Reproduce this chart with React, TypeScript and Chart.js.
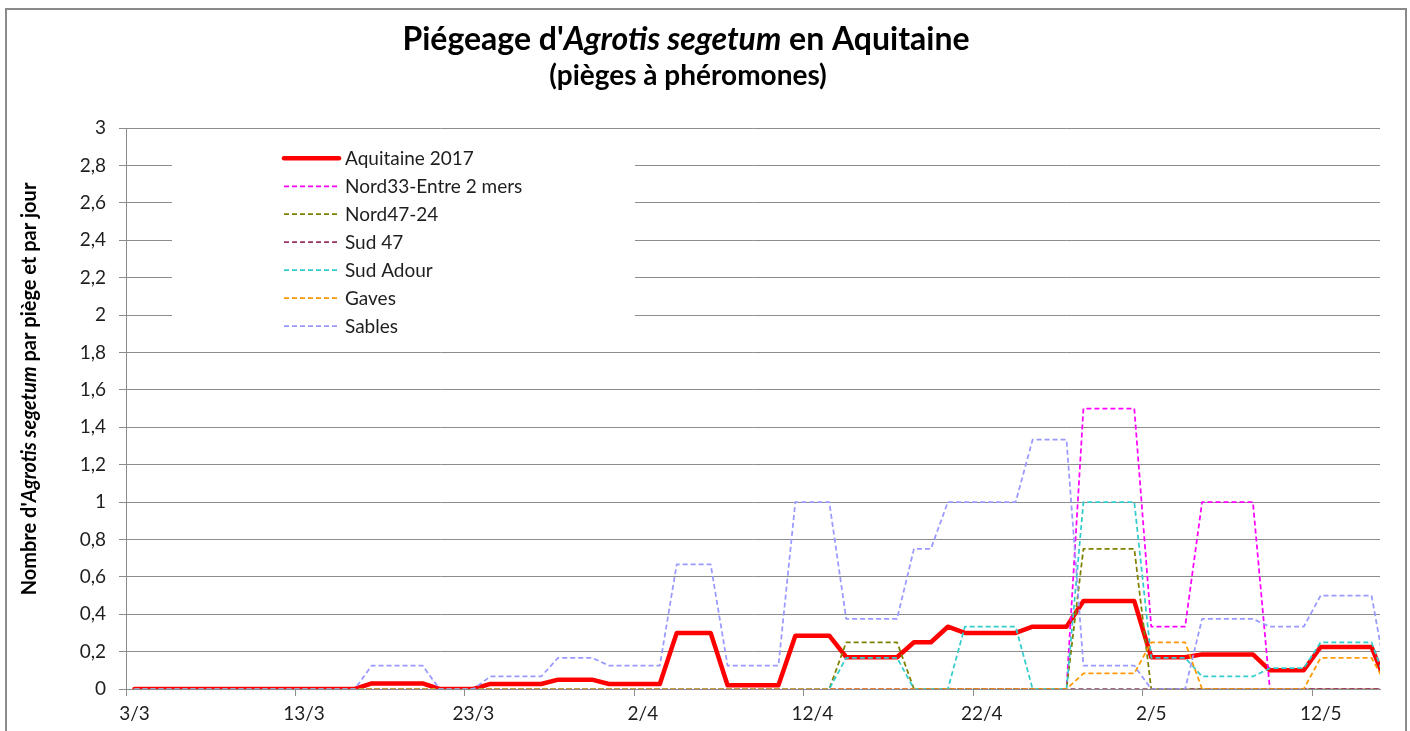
import React, { useEffect, useRef } from "react";
import { Chart, registerables } from "chart.js";

Chart.register(...registerables);

// Days from 3/3 (index 0) to 16/5 (index 74); one value per day
const tickLabels = ["3/3", "13/3", "23/3", "2/4", "12/4", "22/4", "2/5", "12/5"];
const dayCount = 75;

const seriesNames = [
  "Aquitaine 2017",
  "Nord33-Entre 2 mers",
  "Nord47-24",
  "Sud 47",
  "Sud Adour",
  "Gaves",
  "Sables",
];

const aquitaine2017 = [
  0, 0, 0, 0, 0, 0, 0, 0, 0, 0, 0, 0, 0, 0,
  0.03, 0.03, 0.03, 0.03,
  0, 0, 0,
  0.027, 0.027, 0.027, 0.027,
  0.05, 0.05, 0.05,
  0.027, 0.027, 0.027, 0.027,
  0.3, 0.3, 0.3,
  0.02, 0.02, 0.02, 0.02,
  0.285, 0.285, 0.285,
  0.17, 0.17, 0.17, 0.17,
  0.25, 0.25,
  0.333,
  0.3, 0.3, 0.3, 0.3,
  0.333, 0.333, 0.333,
  0.47, 0.47, 0.47, 0.47,
  0.17, 0.17, 0.17,
  0.185, 0.185, 0.185, 0.185,
  0.1, 0.1, 0.1,
  0.225, 0.225, 0.225, 0.225,
  0,
];

const nord33 = [
  0, 0, 0, 0, 0, 0, 0, 0, 0, 0, 0, 0, 0, 0, 0, 0, 0, 0, 0, 0,
  0, 0, 0, 0, 0, 0, 0, 0, 0, 0, 0, 0, 0, 0, 0, 0, 0, 0, 0, 0,
  0, 0, 0, 0, 0, 0, 0, 0, 0, 0, 0, 0, 0, 0, 0, 0,
  1.5, 1.5, 1.5, 1.5,
  0.333, 0.333, 0.333,
  1, 1, 1, 1,
  0, 0, 0, 0, 0, 0, 0, 0,
];

const nord47 = [
  0, 0, 0, 0, 0, 0, 0, 0, 0, 0, 0, 0, 0, 0, 0, 0, 0, 0, 0, 0,
  0, 0, 0, 0, 0, 0, 0, 0, 0, 0, 0, 0, 0, 0, 0, 0, 0, 0, 0, 0,
  0, 0,
  0.25, 0.25, 0.25, 0.25,
  0, 0, 0, 0, 0, 0, 0, 0, 0, 0,
  0.75, 0.75, 0.75, 0.75,
  0, 0, 0, 0, 0, 0, 0, 0, 0, 0, 0, 0, 0, 0, 0,
];

const sud47 = [
  0, 0, 0, 0, 0, 0, 0, 0, 0, 0, 0, 0, 0, 0, 0, 0, 0, 0, 0, 0,
  0, 0, 0, 0, 0, 0, 0, 0, 0, 0, 0, 0, 0, 0, 0, 0, 0, 0, 0, 0,
  0, 0, 0, 0, 0, 0, 0, 0, 0, 0, 0, 0, 0, 0, 0, 0, 0, 0, 0, 0,
  0, 0, 0, 0, 0, 0, 0, 0, 0, 0, 0, 0, 0, 0, 0,
];

const sudAdour = [
  0, 0, 0, 0, 0, 0, 0, 0, 0, 0, 0, 0, 0, 0, 0, 0, 0, 0, 0, 0,
  0, 0, 0, 0, 0, 0, 0, 0, 0, 0, 0, 0, 0, 0, 0, 0, 0, 0, 0, 0,
  0, 0,
  0.167, 0.167, 0.167, 0.167,
  0, 0, 0,
  0.333, 0.333, 0.333, 0.333,
  0, 0, 0,
  1, 1, 1, 1,
  0.167, 0.167, 0.167,
  0.067, 0.067, 0.067, 0.067,
  0.111, 0.111, 0.111,
  0.25, 0.25, 0.25, 0.25,
  0,
];

const gaves = [
  0, 0, 0, 0, 0, 0, 0, 0, 0, 0, 0, 0, 0, 0, 0, 0, 0, 0, 0, 0,
  0, 0, 0, 0, 0, 0, 0, 0, 0, 0, 0, 0, 0, 0, 0, 0, 0, 0, 0, 0,
  0, 0, 0, 0, 0, 0, 0, 0, 0, 0, 0, 0, 0, 0, 0, 0,
  0.083, 0.083, 0.083, 0.083,
  0.25, 0.25, 0.25,
  0, 0, 0, 0, 0, 0, 0,
  0.167, 0.167, 0.167, 0.167,
  0,
];

const sables = [
  0, 0, 0, 0, 0, 0, 0, 0, 0, 0, 0, 0, 0, 0,
  0.125, 0.125, 0.125, 0.125,
  0, 0, 0,
  0.067, 0.067, 0.067, 0.067,
  0.167, 0.167, 0.167,
  0.125, 0.125, 0.125, 0.125,
  0.667, 0.667, 0.667,
  0.125, 0.125, 0.125, 0.125,
  1, 1, 1,
  0.375, 0.375, 0.375, 0.375,
  0.75, 0.75,
  1, 1, 1, 1, 1,
  1.333, 1.333, 1.333,
  0.125, 0.125, 0.125, 0.125,
  0, 0, 0,
  0.375, 0.375, 0.375, 0.375,
  0.333, 0.333, 0.333,
  0.5, 0.5, 0.5, 0.5,
  0,
];

const seriesValues = [aquitaine2017, nord33, nord47, sud47, sudAdour, gaves, sables];
const seriesColors = ["#FF0000", "#FF00FF", "#808000", "#993366", "#33CCCC", "#FF9900", "#9999FF"];

const FONT = "Lato, 'Open Sans', sans-serif";
const TEXT = "#1e1e1e";
const GRID = "#8c8c8c";

type Part = { t: string; italic?: boolean };

function drawMixed(ctx: CanvasRenderingContext2D, parts: Part[], size: number, cx: number, y: number) {
  let total = 0;
  const widths: number[] = [];
  for (const p of parts) {
    ctx.font = `${p.italic ? "italic " : ""}bold ${size}px ${FONT}`;
    const w = ctx.measureText(p.t).width;
    widths.push(w);
    total += w;
  }
  let x = cx - total / 2;
  ctx.textAlign = "left";
  parts.forEach((p, i) => {
    ctx.font = `${p.italic ? "italic " : ""}bold ${size}px ${FONT}`;
    ctx.fillText(p.t, x, y);
    x += widths[i];
  });
}

const decorPlugin = {
  id: "decor",
  beforeDatasetsDraw(chart: any) {
    const ctx: CanvasRenderingContext2D = chart.ctx;
    ctx.save();
    // legend box (white, covers gridlines)
    ctx.fillStyle = "#ffffff";
    ctx.fillRect(172, 143, 463, 197);
    const rowY0 = 158.3;
    const rowStep = 27.95;
    seriesNames.forEach((name, i) => {
      const y = rowY0 + i * rowStep;
      ctx.beginPath();
      ctx.strokeStyle = seriesColors[i];
      if (i === 0) {
        ctx.lineWidth = 4.5;
        ctx.setLineDash([]);
        ctx.lineCap = "round";
      } else {
        ctx.lineWidth = 1.75;
        ctx.setLineDash([5, 3]);
        ctx.lineCap = "butt";
      }
      ctx.moveTo(284, y);
      ctx.lineTo(339, y);
      ctx.stroke();
      ctx.setLineDash([]);
      ctx.fillStyle = TEXT;
      ctx.font = `19px ${FONT}`;
      ctx.textAlign = "left";
      ctx.textBaseline = "middle";
      ctx.fillText(name, 345, y + 1);
    });
    ctx.restore();
  },
  afterDraw(chart: any) {
    const ctx: CanvasRenderingContext2D = chart.ctx;
    ctx.save();
    // chart area border
    ctx.strokeStyle = "#8a8a8a";
    ctx.lineWidth = 2;
    ctx.strokeRect(6, 9, 1400, 760);
    // titles
    ctx.fillStyle = "#000000";
    ctx.textBaseline = "alphabetic";
    drawMixed(
      ctx,
      [{ t: "Piégeage d'" }, { t: "Agrotis segetum", italic: true }, { t: " en Aquitaine" }],
      32,
      686,
      50
    );
    drawMixed(ctx, [{ t: "(pièges à phéromones)" }], 28, 688, 85);
    // y axis title
    ctx.translate(30, 389);
    ctx.rotate(-Math.PI / 2);
    ctx.textBaseline = "middle";
    drawMixed(
      ctx,
      [{ t: "Nombre d'" }, { t: "Agrotis segetum", italic: true }, { t: " par piège et par jour" }],
      20,
      0,
      0
    );
    ctx.restore();
  },
};

export default function App() {
  const canvasRef = useRef<HTMLCanvasElement | null>(null);

  useEffect(() => {
    const canvas = canvasRef.current;
    if (!canvas) return;
    const datasets = seriesNames.map((name, i) => ({
      label: name,
      data: seriesValues[i].map((v, d) => ({ x: d + 0.5, y: v })),
      borderColor: seriesColors[i],
      backgroundColor: seriesColors[i],
      borderWidth: i === 0 ? 4.5 : 1.75,
      borderDash: i === 0 ? [] : [5, 3],
      borderJoinStyle: "round" as const,
      borderCapStyle: i === 0 ? ("round" as const) : ("butt" as const),
      pointRadius: 0,
      tension: 0,
      fill: false,
      order: 10 - i,
    }));

    const chart = new Chart(canvas, {
      type: "line",
      data: { datasets },
      options: {
        responsive: false,
        animation: false,
        layout: { padding: { left: 0, right: 30, top: 128, bottom: 0 } },
        plugins: {
          legend: { display: false },
          title: { display: false },
          tooltip: { enabled: false },
        },
        scales: {
          x: {
            type: "linear",
            min: 0,
            max: dayCount - 1,
            afterFit: (s: any) => {
              s.height = 42;
            },
            grid: {
              drawOnChartArea: false,
              drawTicks: true,
              tickLength: 7,
              color: GRID,
            },
            border: { display: true, color: GRID, width: 1 },
            ticks: {
              stepSize: 10,
              includeBounds: false,
              autoSkip: false,
              maxRotation: 0,
              labelOffset: 8.5,
              padding: 6,
              color: TEXT,
              font: { family: FONT, size: 19 },
              callback: (v: any) => {
                const idx = Math.round(Number(v) / 10);
                return Number(v) % 10 === 0 && tickLabels[idx] ? tickLabels[idx] : "";
              },
            },
          },
          y: {
            min: 0,
            max: 3,
            afterFit: (s: any) => {
              s.width = 126;
            },
            grid: {
              drawOnChartArea: true,
              drawTicks: true,
              tickLength: 7,
              color: GRID,
            },
            border: { display: true, color: GRID, width: 1 },
            ticks: {
              stepSize: 0.2,
              autoSkip: false,
              padding: 13,
              color: TEXT,
              font: { family: FONT, size: 19 },
              callback: (v: any) => {
                const r = Math.round(Number(v) * 10) / 10;
                return String(r).replace(".", ",");
              },
            },
          },
        },
      },
      plugins: [decorPlugin],
    });
    return () => chart.destroy();
  }, []);

  return (
    <div style={{ position: "fixed", left: 0, top: 0, width: 1410, height: 731, background: "#ffffff" }}>
      <canvas ref={canvasRef} width={1410} height={731} style={{ display: "block" }} />
    </div>
  );
}
